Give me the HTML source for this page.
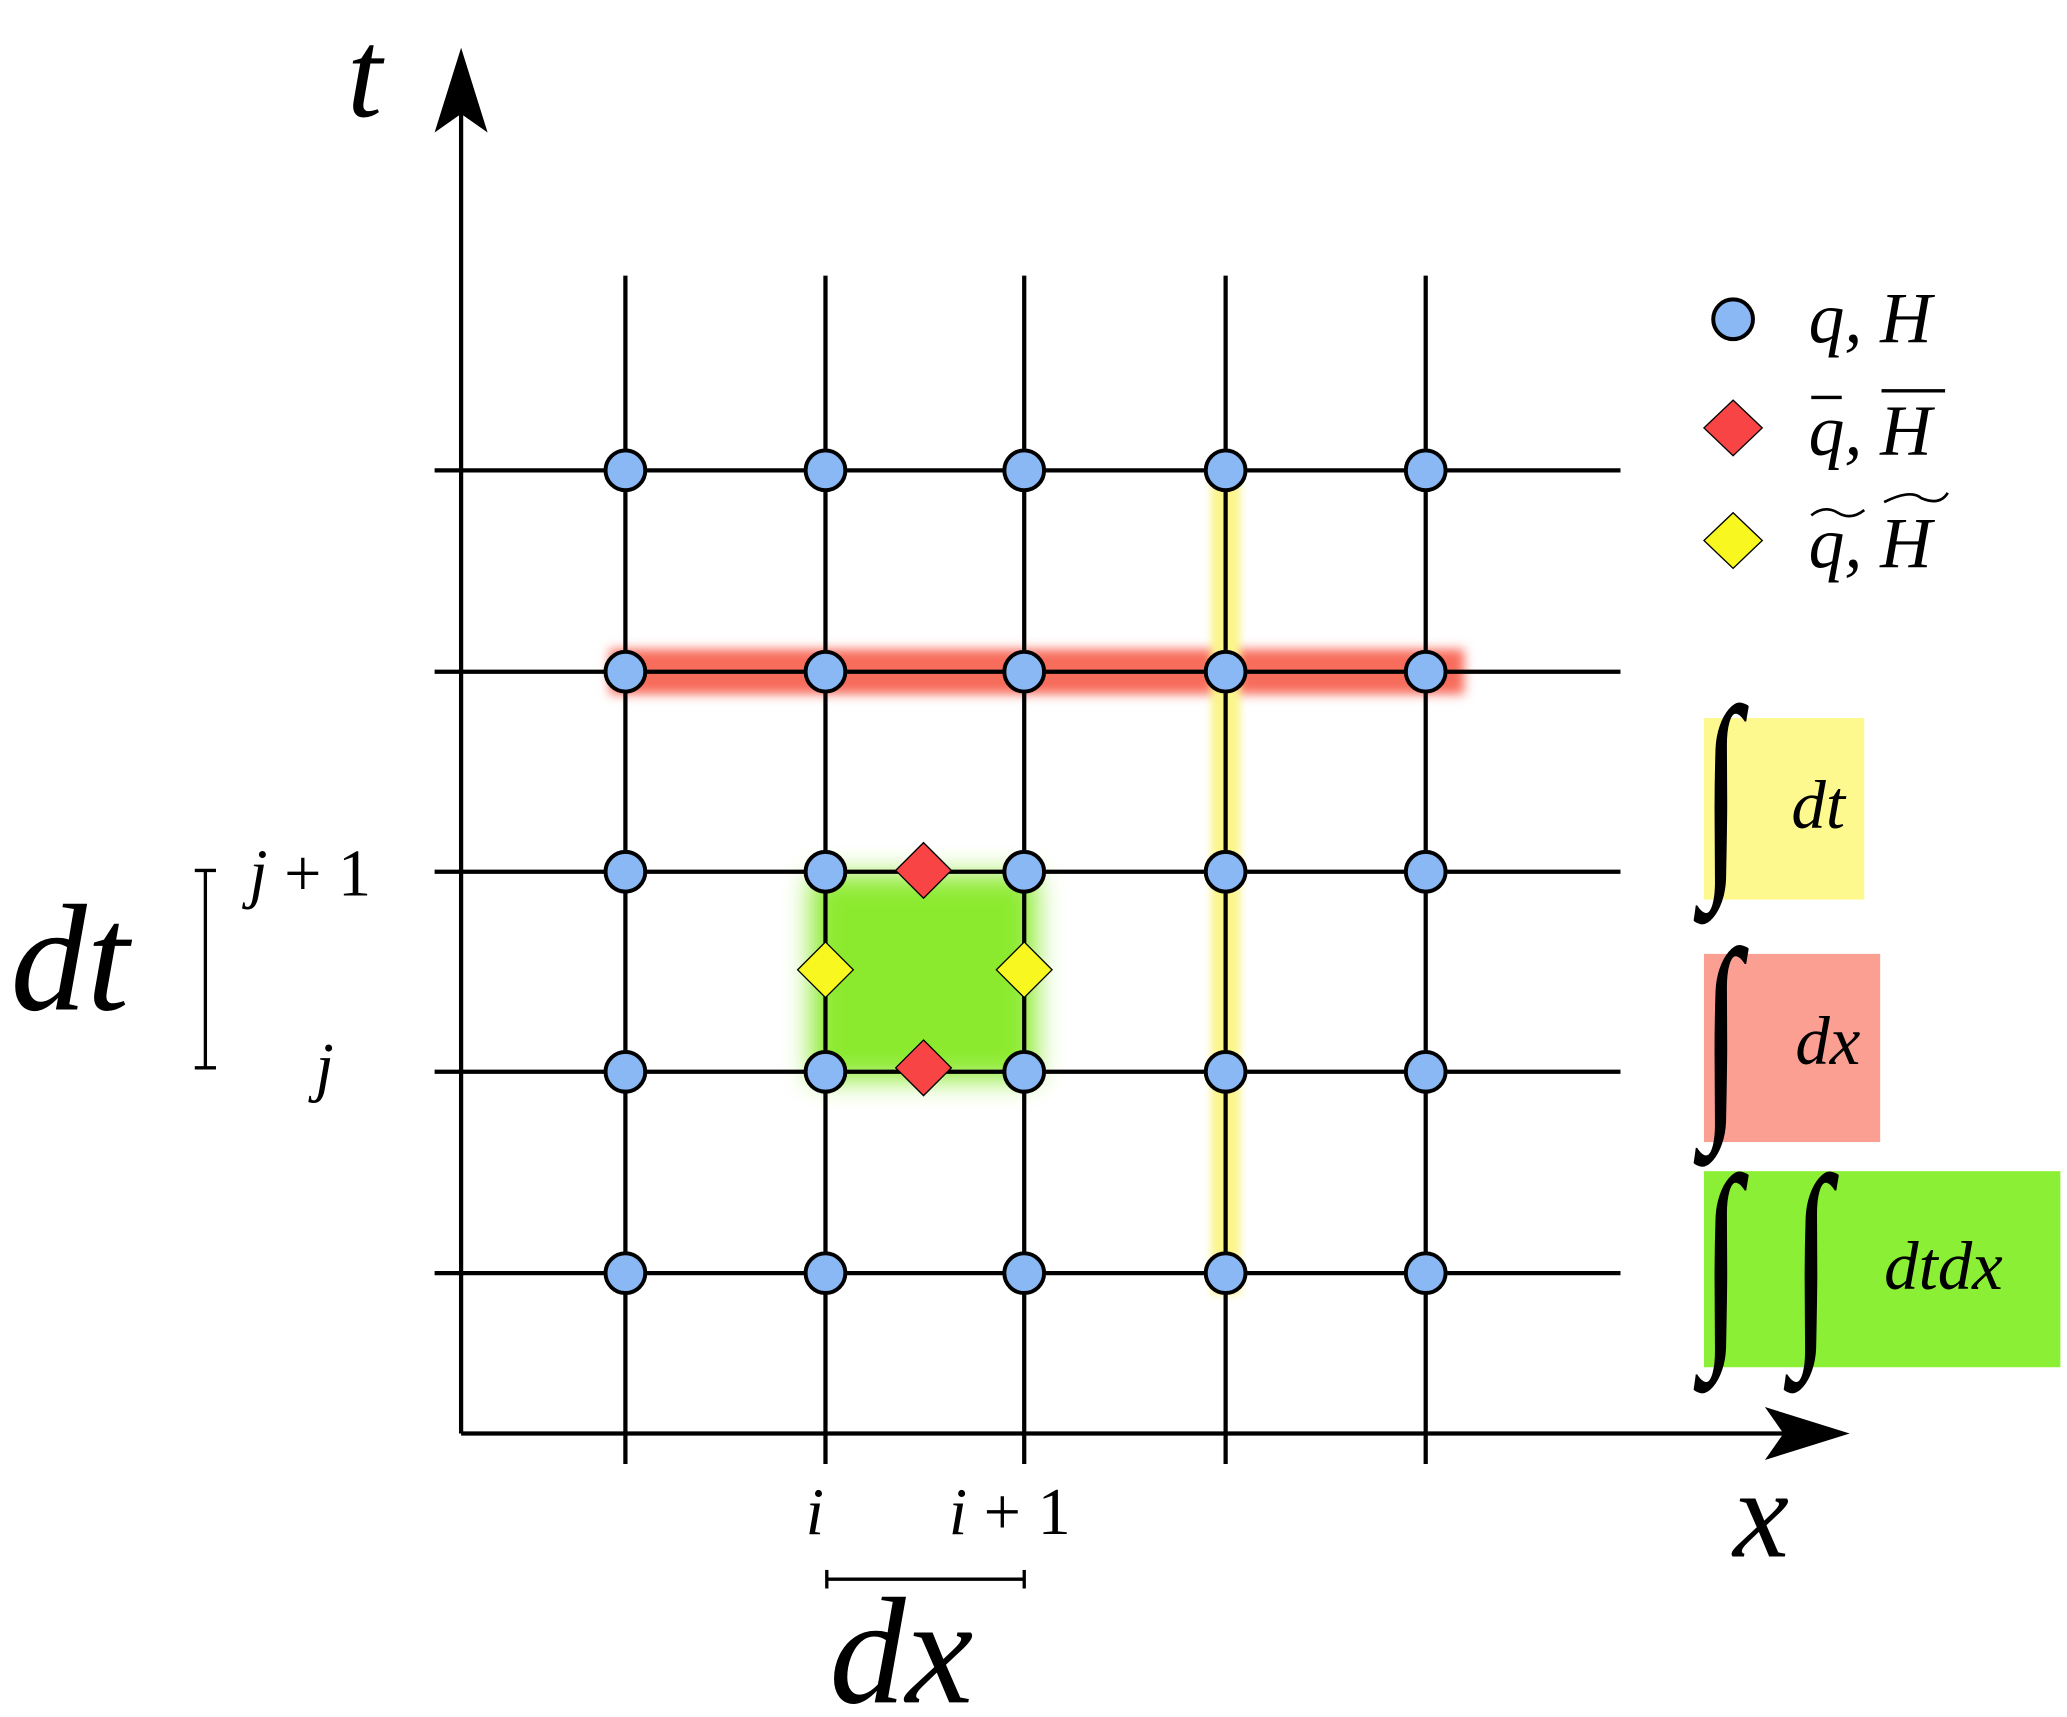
<!DOCTYPE html>
<html><head><style>html,body{margin:0;padding:0;background:#fff;}svg{display:block}</style></head>
<body>
<svg width="2067" height="1717" viewBox="0 0 1560 1296" preserveAspectRatio="none" xmlns="http://www.w3.org/2000/svg" font-family="Liberation Serif, serif" font-style="italic">
<defs>
<filter id="b1" x="-20%" y="-50%" width="140%" height="200%"><feGaussianBlur stdDeviation="4"/></filter>
<filter id="b2" x="-30%" y="-30%" width="160%" height="160%"><feGaussianBlur stdDeviation="10"/></filter>
<filter id="b3" x="-50%" y="-10%" width="200%" height="120%"><feGaussianBlur stdDeviation="3"/></filter>
</defs>
<rect x="612" y="660" width="170" height="155" fill="#8bea2f" filter="url(#b2)"/>
<rect x="460" y="490" width="645" height="34" fill="#f86c5c" filter="url(#b1)"/>
<rect x="914" y="362" width="22" height="615" fill="#fbf58a" filter="url(#b3)"/>
<g stroke="#000" stroke-width="3.2" fill="none">
<line x1="348" y1="80" x2="348" y2="1082"/>
<line x1="348" y1="1082" x2="1370" y2="1082"/>
<line x1="472" y1="208" x2="472" y2="1105"/>
<line x1="623" y1="208" x2="623" y2="1105"/>
<line x1="773" y1="208" x2="773" y2="1105"/>
<line x1="925" y1="208" x2="925" y2="1105"/>
<line x1="1076" y1="208" x2="1076" y2="1105"/>
<line x1="328" y1="355" x2="1223" y2="355"/>
<line x1="328" y1="507" x2="1223" y2="507"/>
<line x1="328" y1="658" x2="1223" y2="658"/>
<line x1="328" y1="809" x2="1223" y2="809"/>
<line x1="328" y1="961" x2="1223" y2="961"/>
<line x1="155" y1="657" x2="155" y2="806" stroke-width="2.5"/>
<line x1="147" y1="657" x2="163" y2="657" stroke-width="2.5"/>
<line x1="147" y1="806" x2="163" y2="806" stroke-width="2.5"/>
<line x1="624" y1="1192" x2="773" y2="1192" stroke-width="2.5"/>
<line x1="624" y1="1185" x2="624" y2="1199" stroke-width="2.5"/>
<line x1="773" y1="1185" x2="773" y2="1199" stroke-width="2.5"/>
</g>
<path d="M348,36 L368,100 L348,86 L328,100 Z" fill="#000"/>
<path d="M1396,1082 L1332,1062 L1346,1082 L1332,1102 Z" fill="#000"/>
<g fill="#8ab8f4" stroke="#000" stroke-width="3">
<circle cx="472" cy="355" r="15"/><circle cx="623" cy="355" r="15"/><circle cx="773" cy="355" r="15"/><circle cx="925" cy="355" r="15"/><circle cx="1076" cy="355" r="15"/>
<circle cx="472" cy="507" r="15"/><circle cx="623" cy="507" r="15"/><circle cx="773" cy="507" r="15"/><circle cx="925" cy="507" r="15"/><circle cx="1076" cy="507" r="15"/>
<circle cx="472" cy="658" r="15"/><circle cx="623" cy="658" r="15"/><circle cx="773" cy="658" r="15"/><circle cx="925" cy="658" r="15"/><circle cx="1076" cy="658" r="15"/>
<circle cx="472" cy="809" r="15"/><circle cx="623" cy="809" r="15"/><circle cx="773" cy="809" r="15"/><circle cx="925" cy="809" r="15"/><circle cx="1076" cy="809" r="15"/>
<circle cx="472" cy="961" r="15"/><circle cx="623" cy="961" r="15"/><circle cx="773" cy="961" r="15"/><circle cx="925" cy="961" r="15"/><circle cx="1076" cy="961" r="15"/>
<circle cx="1308" cy="241" r="15"/>
</g>
<g stroke="#000" stroke-width="1">
<path d="M697,636 L718,657 L697,678 L676,657 Z" fill="#f84444"/>
<path d="M697,785 L718,806 L697,827 L676,806 Z" fill="#f84444"/>
<path d="M623,711 L644,732 L623,753 L602,732 Z" fill="#f8f820"/>
<path d="M773,711 L794,732 L773,753 L752,732 Z" fill="#f8f820"/>
<path d="M1308,302 L1330,323 L1308,344 L1286,323 Z" fill="#f84444"/>
<path d="M1308,387 L1330,408 L1308,429 L1286,408 Z" fill="#f8f820"/>
</g>
<rect x="1286" y="542" width="121" height="137" fill="#fdf98e"/>
<rect x="1286" y="720" width="133" height="142" fill="#fb9f92"/>
<rect x="1286" y="884" width="269" height="148" fill="#8bef35"/>
<g fill="#000">
<text x="1365" y="258" font-size="54">q, H</text>
<text x="1365" y="343" font-size="54">q, H</text>
<line x1="1367" y1="300" x2="1390" y2="300" stroke="#000" stroke-width="2.5"/>
<line x1="1420" y1="295" x2="1468" y2="295" stroke="#000" stroke-width="2.5"/>
<text x="1365" y="428" font-size="54">q, H</text>
<path d="M1367,389 q10,-8 20,-2 q10,6 20,-2" stroke="#000" stroke-width="2" fill="none"/>
<path d="M1422,379 q20,-10 28,-3 q14,6 20,-4" stroke="#000" stroke-width="2" fill="none"/>
<text transform="translate(1284,652) scale(1,1.55)" font-size="110" font-style="normal">∫</text>
<text x="1352" y="625" font-size="52">dt</text>
<text transform="translate(1284,835) scale(1,1.55)" font-size="110" font-style="normal">∫</text>
<text x="1355" y="803" font-size="52">dx</text>
<text transform="translate(1284,1006) scale(1,1.55)" font-size="110" font-style="normal">∫</text>
<text transform="translate(1352,1006) scale(1,1.55)" font-size="110" font-style="normal">∫</text>
<text x="1422" y="973" font-size="52">dtdx</text>
<text x="8" y="762" font-size="115">dt</text>
<text x="188" y="676" font-size="50">j <tspan font-style="normal">+ 1</tspan></text>
<text x="238" y="822" font-size="50">j</text>
<text x="608" y="1158" font-size="50">i</text>
<text x="716" y="1158" font-size="50">i <tspan font-style="normal">+ 1</tspan></text>
<text x="626" y="1285" font-size="115">dx</text>
<text x="262" y="88" font-size="95">t</text>
<text x="1308" y="1175" font-size="95">x</text>
</g>
</svg>
</body></html>
